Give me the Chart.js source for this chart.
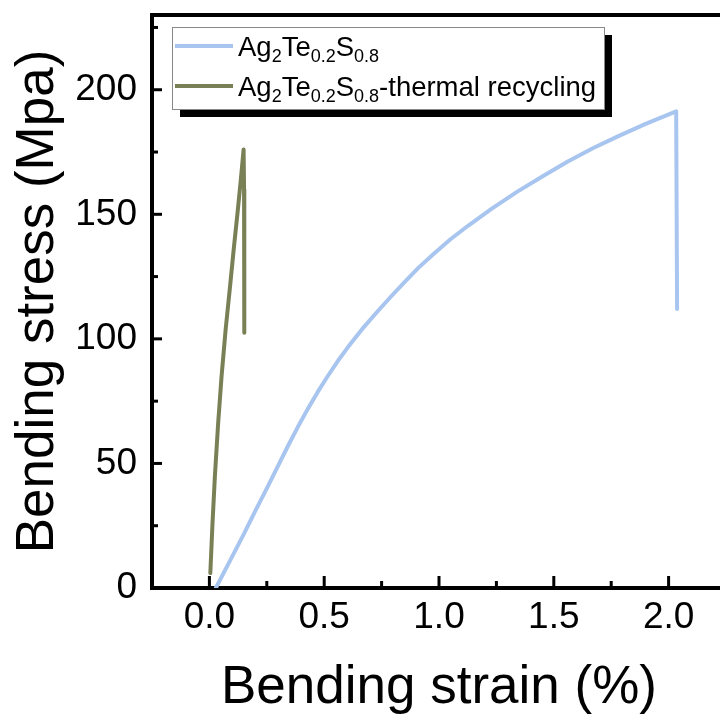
<!DOCTYPE html>
<html>
<head>
<meta charset="utf-8">
<script src="https://cdn.jsdelivr.net/npm/chart.js@4/dist/chart.umd.min.js"></script>
<style>
  html, body { margin:0; padding:0; background:#fff; overflow:hidden; }
  #wrap { width:720px; height:722px; overflow:hidden; }
</style>
</head>
<body>
<div id="wrap"><canvas id="bend" width="730" height="722"></canvas></div>
<script>
// bending strain (%) / stress (MPa) for the as-made sample
const strainFresh = [0.028, 0.09, 0.152, 0.2, 0.254, 0.3, 0.341, 0.385, 0.428, 0.472, 0.515, 0.56, 0.602, 0.665,
  0.733, 0.79, 0.849, 0.91, 0.98, 1.05, 1.125, 1.23, 1.343, 1.45, 1.561, 1.67, 1.779, 1.9, 2.033, 2.037];
const stressFresh = [0, 11, 22, 31, 40.7, 49.2, 56.8, 64.6, 71.8, 78.7, 85, 91.2, 96.5, 103.9,
  111.1, 116.9, 122.7, 128.5, 134.4, 140, 145.3, 152.3, 159.2, 165.2, 171.2, 176.5, 181.3, 186.3, 191.3, 112];
// same material after thermal recycling
const strainRecyc = [0.004, 0.013, 0.024, 0.038, 0.053, 0.071, 0.091, 0.107, 0.123, 0.137, 0.149, 0.151, 0.152];
const stressRecyc = [6, 25, 45, 66, 85, 104, 122, 137, 151, 164, 176, 160, 102.5];

const xTicks = [0, 0.5, 1.0, 1.5, 2.0];
const xMinorTicks = [0.25, 0.75, 1.25, 1.75];
const yTicks = [0, 50, 100, 150, 200];
const yMinorTicks = [25, 75, 125, 175, 225];

// legend names, split into [text, isSubscript] runs
const nameFresh = [['Ag'], ['2', 1], ['Te'], ['0.2', 1], ['S'], ['0.8', 1]];
const nameRecyc = [['Ag'], ['2', 1], ['Te'], ['0.2', 1], ['S'], ['0.8', 1], ['-thermal recycling']];

const blue = '#a8c5ef';
const olive = '#7a8056';
const FONT = '"Liberation Sans", Arial, sans-serif';

Chart.defaults.font.family = FONT;
Chart.defaults.color = '#000';

const toPts = (xs, ys) => xs.map((x, i) => ({x: x, y: ys[i]}));

// inward ticks + top frame line
const frameTicks = {
  id: 'frameTicks',
  afterDatasetsDraw(chart) {
    const {ctx, chartArea: a, scales: {x, y}} = chart;
    ctx.save();
    ctx.strokeStyle = '#000';
    ctx.lineWidth = 4;
    ctx.beginPath();
    ctx.moveTo(a.left - 2, a.top);
    ctx.lineTo(a.right + 10, a.top);
    ctx.stroke();
    ctx.lineWidth = 3;
    const tx = (v, len) => { const p = x.getPixelForValue(v); ctx.beginPath(); ctx.moveTo(p, a.bottom); ctx.lineTo(p, a.bottom - len); ctx.stroke(); };
    const ty = (v, len) => { const p = y.getPixelForValue(v); ctx.beginPath(); ctx.moveTo(a.left, p); ctx.lineTo(a.left + len, p); ctx.stroke(); };
    xTicks.forEach(v => tx(v, 12));
    xMinorTicks.forEach(v => tx(v, 7));
    yTicks.forEach(v => ty(v, 10));
    yMinorTicks.forEach(v => ty(v, 6));
    ctx.restore();
  }
};

function drawRich(ctx, parts, x, y) {
  parts.forEach(([t, sub]) => {
    ctx.font = (sub ? '18px ' : '27.5px ') + FONT;
    ctx.fillText(t, x, sub ? y + 6.5 : y);
    x += ctx.measureText(t).width;
  });
}

// boxed legend with a drop shadow
const shadowLegend = {
  id: 'shadowLegend',
  afterDraw(chart) {
    const ctx = chart.ctx;
    const bx = 172, by = 27, bw = 432, bh = 82;
    ctx.save();
    ctx.fillStyle = '#000';
    ctx.fillRect(bx + 8, by + 8, bw, bh);
    ctx.fillStyle = '#fff';
    ctx.fillRect(bx, by, bw, bh);
    ctx.strokeStyle = '#888';
    ctx.lineWidth = 1;
    ctx.strokeRect(bx + 0.5, by + 0.5, bw, bh);
    const rows = [[nameFresh, blue, 46], [nameRecyc, olive, 86]];
    rows.forEach(([parts, col, ly]) => {
      ctx.strokeStyle = col;
      ctx.lineWidth = 4;
      ctx.beginPath();
      ctx.moveTo(175, ly);
      ctx.lineTo(233, ly);
      ctx.stroke();
      ctx.fillStyle = '#000';
      ctx.textBaseline = 'alphabetic';
      drawRich(ctx, parts, 238, ly + 9.5);
    });
    ctx.restore();
  }
};

new Chart(document.getElementById('bend'), {
  type: 'scatter',
  data: {
    datasets: [
      { data: toPts(strainFresh, stressFresh), showLine: true, borderColor: blue, borderWidth: 4,
        pointRadius: 0, borderCapStyle: 'round', borderJoinStyle: 'round' },
      { data: toPts(strainRecyc, stressRecyc), showLine: true, borderColor: olive, borderWidth: 4,
        pointRadius: 0, borderCapStyle: 'round', borderJoinStyle: 'round' }
    ]
  },
  options: {
    responsive: false,
    animation: false,
    layout: { padding: { top: 15, right: 4, left: 0, bottom: 0 } },
    plugins: { legend: { display: false }, tooltip: { enabled: false } },
    scales: {
      x: {
        type: 'linear', min: -0.25, max: 2.25,
        afterBuildTicks: s => { s.ticks = xTicks.map(v => ({value: v})); },
        afterFit: s => { s.height = 134; s.paddingLeft = 0; s.paddingRight = 0; },
        grid: { display: false, drawTicks: false },
        border: { display: true, color: '#000', width: 4 },
        ticks: { padding: 8, font: { size: 37 }, callback: v => v.toFixed(1) },
        title: { display: true, text: 'Bending strain (%)', font: { size: 53 }, padding: { top: 0, bottom: 2 } }
      },
      y: {
        type: 'linear', min: 0, max: 230,
        afterBuildTicks: s => { s.ticks = yTicks.map(v => ({value: v})); },
        afterFit: s => { s.width = 152; s.paddingTop = 0; s.paddingBottom = 0; },
        grid: { display: false, drawTicks: false },
        border: { display: true, color: '#000', width: 4 },
        ticks: { padding: 15, font: { size: 37 } },
        title: { display: true, text: 'Bending stress (Mpa)', font: { size: 53 }, padding: { top: 7, bottom: 0 } }
      }
    }
  },
  plugins: [frameTicks, shadowLegend]
});
</script>
</body>
</html>
